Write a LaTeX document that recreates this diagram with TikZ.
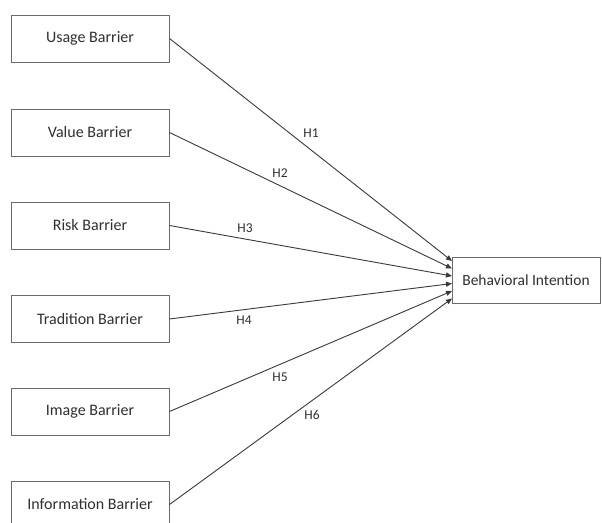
\documentclass[tikz,border=0pt]{standalone}
\usepackage{fontspec}
\setmainfont{Carlito}
\usetikzlibrary{arrows.meta}
\definecolor{txt}{HTML}{303030}
\definecolor{boxline}{HTML}{6A6A6A}
\definecolor{conn}{HTML}{3A3A3A}
\begin{document}
\begin{tikzpicture}[x=1pt,y=-1pt,
  barrier/.style={draw=boxline,line width=1pt,minimum width=158pt,minimum height=47pt,inner sep=0pt,font=\fontsize{16}{18}\selectfont,text=txt},
  target/.style={draw=boxline,line width=1pt,minimum width=148pt,minimum height=46pt,inner sep=0pt,font=\fontsize{15.5}{18}\selectfont,text=txt},
  hlabel/.style={font=\fontsize{13.5}{15}\selectfont,text=txt,inner sep=0pt},
  conn/.style={draw=conn,line width=0.9pt,-{Triangle[length=6pt,width=5pt]}}]
\clip (0,0) rectangle (602,522);
\fill[white] (0,0) rectangle (602,522);
\node[barrier] (b1) at (90,38.5) {Usage Barrier};
\node[barrier] (b2) at (90,132.5) {Value Barrier};
\node[barrier] (b3) at (90,225.5) {Risk Barrier};
\node[barrier] (b4) at (90,319) {Tradition Barrier};
\node[barrier] (b5) at (90,411.5) {Image Barrier};
\node[barrier] (b6) at (90,504.5) {Information Barrier};
\node[target] (bi) at (526,280) {Behavioral Intention};
\coordinate (t1) at (452,261);
\coordinate (t2) at (452,268.5);
\coordinate (t3) at (452,276);
\coordinate (t4) at (452,283.5);
\coordinate (t5) at (452,291);
\coordinate (t6) at (452,298.5);
\draw[conn] (b1.east) -- (t1);
\draw[conn] (b2.east) -- (t2);
\draw[conn] (b3.east) -- (t3);
\draw[conn] (b4.east) -- (t4);
\draw[conn] (b5.east) -- (t5);
\draw[conn] (b6.east) -- (t6);
\node[hlabel] (h1) at (311,133) {H1};
\node[hlabel] (h2) at (280,173) {H2};
\node[hlabel] (h3) at (245,228) {H3};
\node[hlabel] (h4) at (244,320) {H4};
\node[hlabel] (h5) at (280,377) {H5};
\node[hlabel] (h6) at (312,415) {H6};
\end{tikzpicture}
\end{document}
